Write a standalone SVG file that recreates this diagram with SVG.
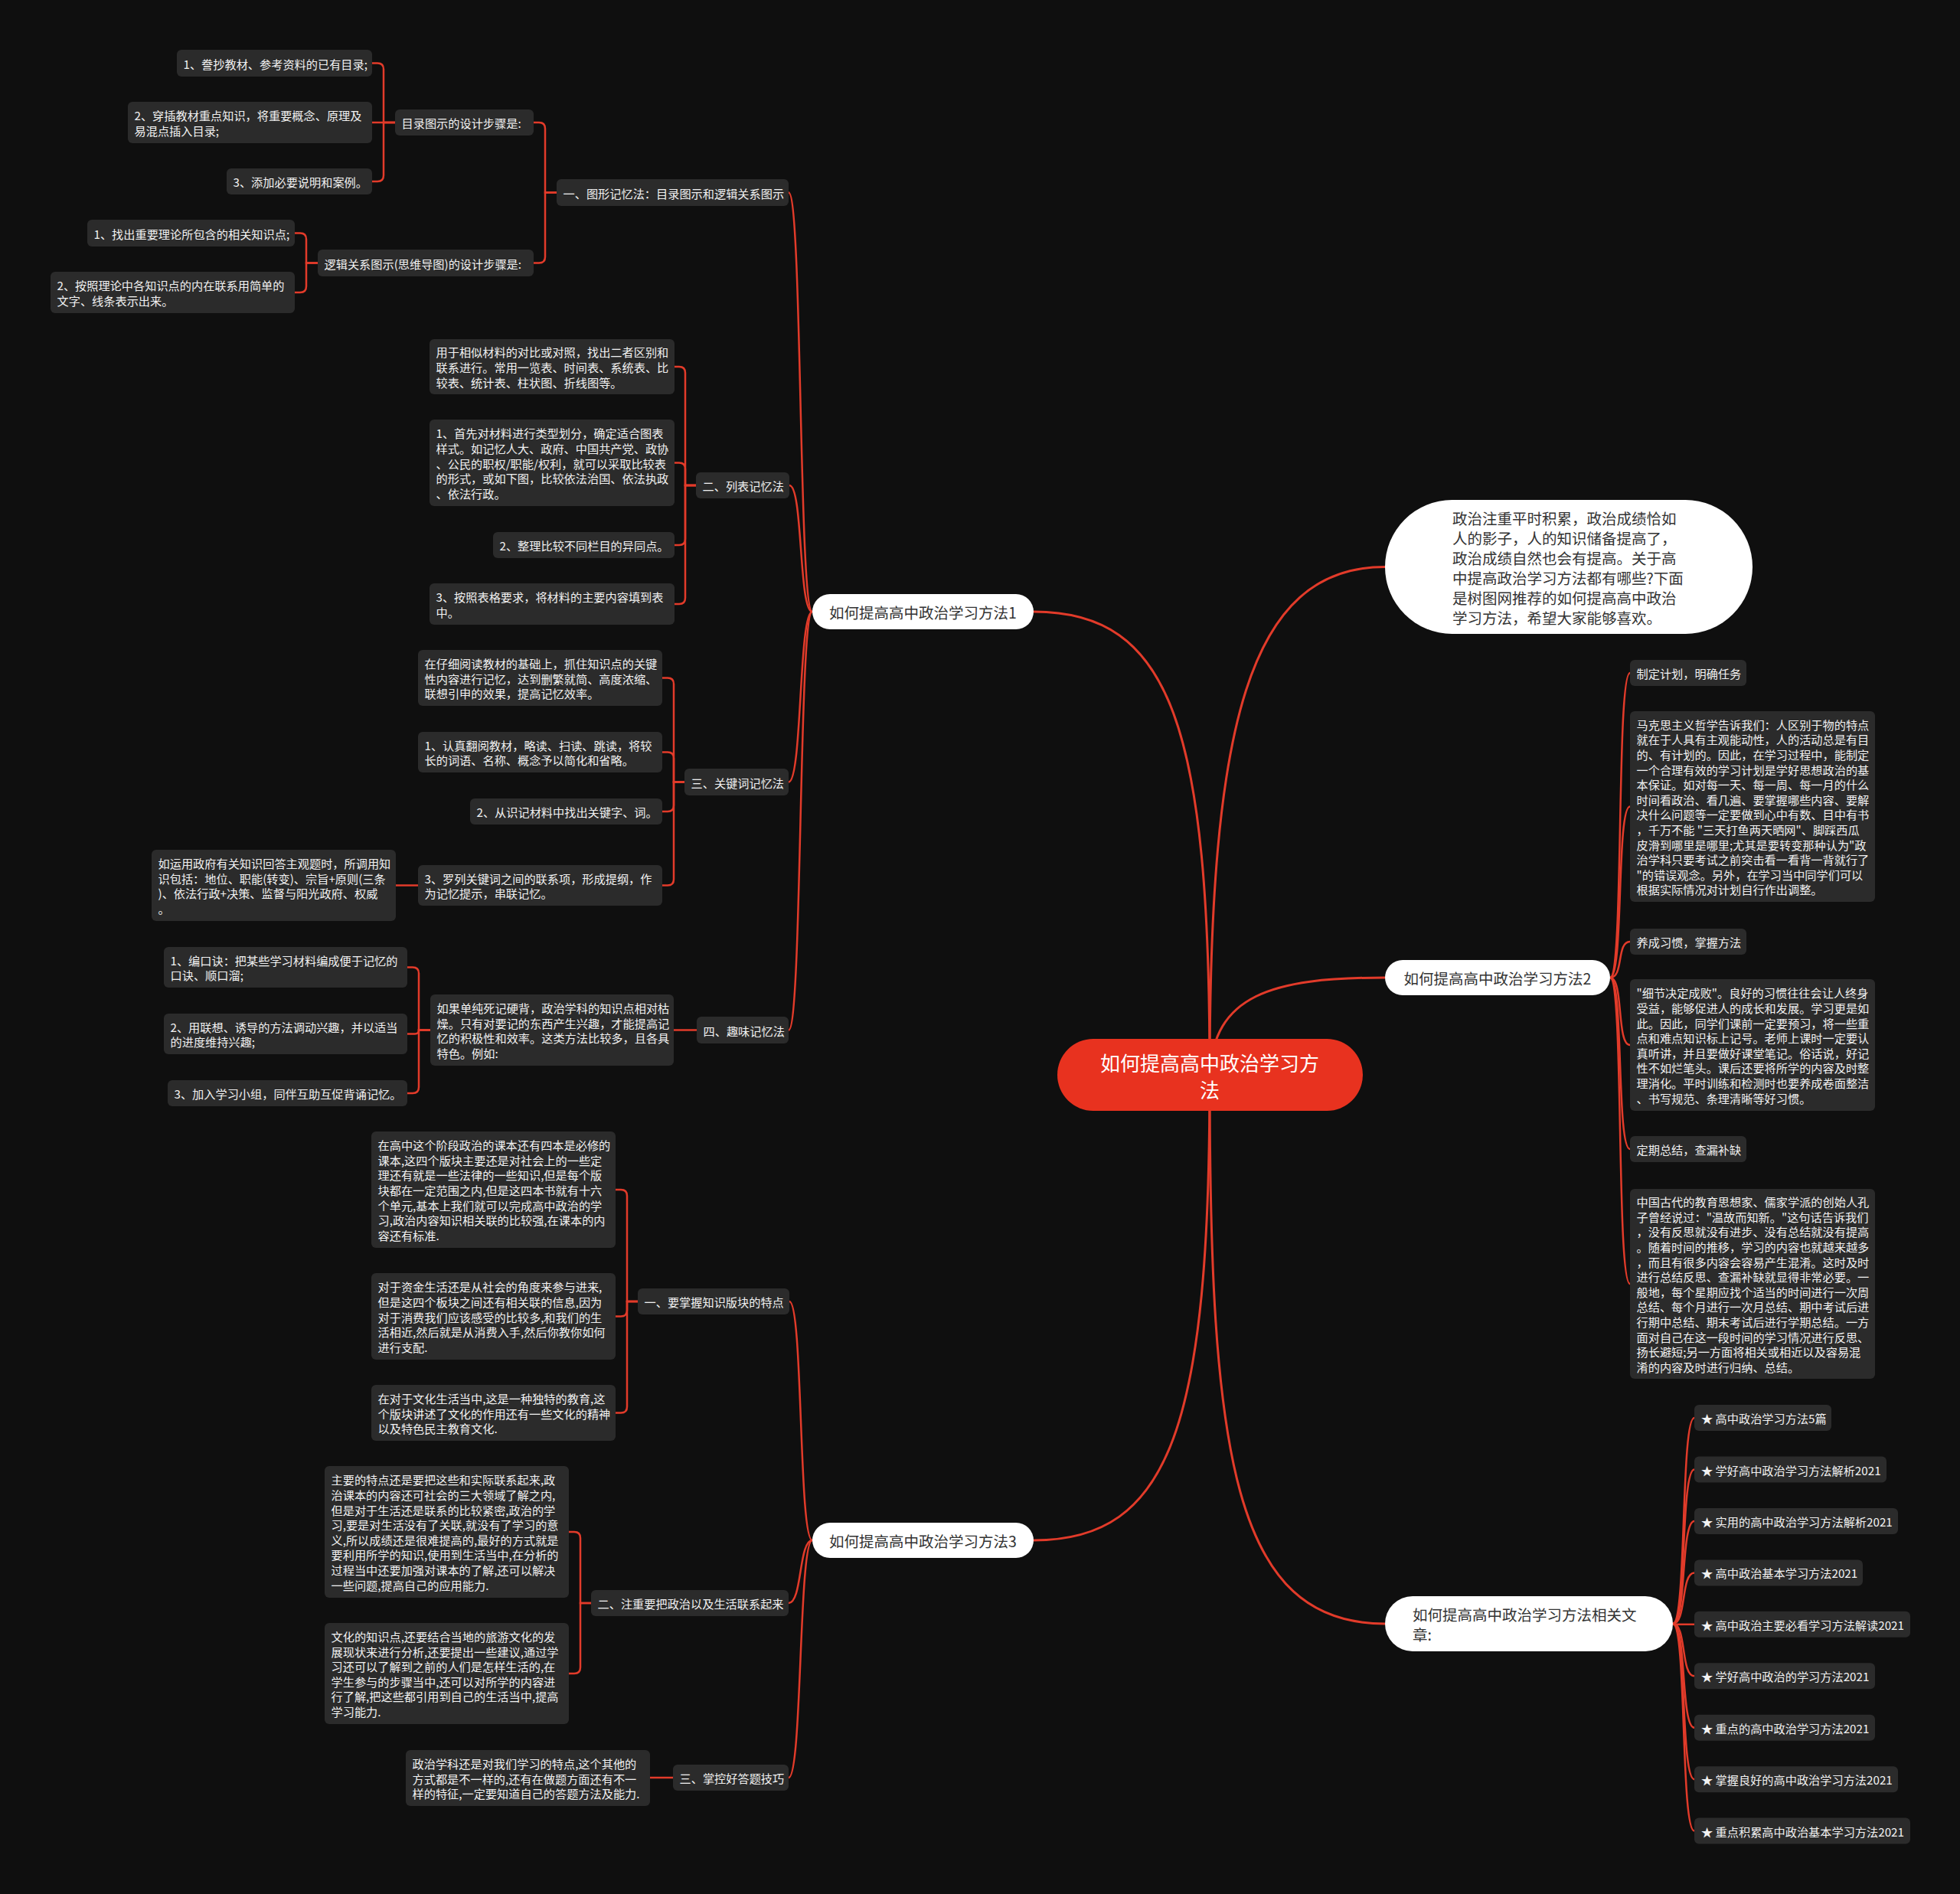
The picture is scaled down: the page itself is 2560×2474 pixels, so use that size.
<svg xmlns="http://www.w3.org/2000/svg" width="2560" height="2474" viewBox="0 0 2560 2474">
<style>
.bg{fill:#0f0f0f}
.box{fill:#2b2b2b}
.t{font-family:"Noto Sans CJK SC","Noto Sans",sans-serif;font-size:15.2px;fill:#f2f2f2;dominant-baseline:central}
.w{fill:#ffffff}
.wt{font-family:"Noto Sans CJK SC","Noto Sans",sans-serif;font-size:19.5px;fill:#333333;dominant-baseline:central}
.c{fill:#e8321f}
.ct{font-family:"Noto Sans CJK SC","Noto Sans",sans-serif;font-size:26px;fill:#ffffff;dominant-baseline:central;text-anchor:middle}
.ln{fill:none;stroke:#e23b2a;stroke-width:2.5}
.lm{fill:none;stroke:#e23b2a;stroke-width:3}
</style>
<rect class="bg" x="0" y="0" width="2560" height="2474"/>
<g id="connectors">
<path class="lm" d="M1580 1404 C1580 950 1530 799 1350 799"/>
<path class="lm" d="M1580 1404 C1580 1860 1530 2012 1350 2012"/>
<path class="lm" d="M1580 1404 C1580 950 1630 740.5 1809 740.5"/>
<path class="lm" d="M1580 1404 C1585 1300 1660 1277 1809 1277"/>
<path class="lm" d="M1580 1404 C1580 1900 1610 2121 1809 2121"/>
<path class="ln" d="M1061 799 C1043 799 1048 251.5 1030 251.5"/>
<path class="ln" d="M1061 799 C1043 799 1049 634 1031 634"/>
<path class="ln" d="M1061 799 C1043 799 1048 1021.5 1030 1021.5"/>
<path class="ln" d="M1061 799 C1043 799 1048 1345.5 1030 1345.5"/>
<path class="ln" d="M1061 2012 C1043 2012 1049 1700 1031 1700"/>
<path class="ln" d="M1061 2012 C1043 2012 1048 2094 1030 2094"/>
<path class="ln" d="M1061 2012 C1043 2012 1048 2322 1030 2322"/>
<path class="ln" d="M2103 1277 C2121 1277 2111 879 2129 879"/>
<path class="ln" d="M2103 1277 C2121 1277 2111 1053.5 2129 1053.5"/>
<path class="ln" d="M2103 1277 C2121 1277 2111 1230 2129 1230"/>
<path class="ln" d="M2103 1277 C2121 1277 2111 1365 2129 1365"/>
<path class="ln" d="M2103 1277 C2121 1277 2111 1501 2129 1501"/>
<path class="ln" d="M2103 1277 C2121 1277 2111 1677 2129 1677"/>
<path class="ln" d="M2185 2121 C2203 2121 2195 1852 2213 1852"/>
<path class="ln" d="M2185 2121 C2203 2121 2195 1919.5 2213 1919.5"/>
<path class="ln" d="M2185 2121 C2203 2121 2195 1986.9 2213 1986.9"/>
<path class="ln" d="M2185 2121 C2203 2121 2195 2054.4 2213 2054.4"/>
<path class="ln" d="M2185 2121.8 H2213"/>
<path class="ln" d="M2185 2121 C2203 2121 2195 2189.3 2213 2189.3"/>
<path class="ln" d="M2185 2121 C2203 2121 2195 2256.7 2213 2256.7"/>
<path class="ln" d="M2185 2121 C2203 2121 2195 2324.2 2213 2324.2"/>
<path class="ln" d="M2185 2121 C2203 2121 2195 2391.6 2213 2391.6"/>
<path class="ln" d="M727 251.5 H712 V168 Q712 160 704 160 H697"/>
<path class="ln" d="M727 251.5 H712 V335.5 Q712 343.5 704 343.5 H697"/>
<path class="ln" d="M516 160 H501 V90.5 Q501 82.5 493 82.5 H486"/>
<path class="ln" d="M516 160 H486"/>
<path class="ln" d="M516 160 H501 V229 Q501 237 493 237 H486"/>
<path class="ln" d="M415 343.5 H400 V312.5 Q400 304.5 392 304.5 H385"/>
<path class="ln" d="M415 343.5 H400 V374 Q400 382 392 382 H385"/>
<path class="ln" d="M909 634 H895 V487 Q895 479 887 479 H881"/>
<path class="ln" d="M909 634 H895 V612.5 Q895 604.5 887 604.5 H881"/>
<path class="ln" d="M909 634 H895 V704 Q895 712 887 712 H881"/>
<path class="ln" d="M909 634 H895 V781 Q895 789 887 789 H881"/>
<path class="ln" d="M894 1021.5 H880 V893.5 Q880 885.5 872 885.5 H865"/>
<path class="ln" d="M894 1021.5 H880 V990.5 Q880 982.5 872 982.5 H865"/>
<path class="ln" d="M894 1021.5 H880 V1052 Q880 1060 872 1060 H865"/>
<path class="ln" d="M894 1021.5 H880 V1148.5 Q880 1156.5 872 1156.5 H865"/>
<path class="ln" d="M546 1156.5 H517"/>
<path class="ln" d="M910 1345.5 H880"/>
<path class="ln" d="M562 1345.5 H547 V1271.5 Q547 1263.5 539 1263.5 H532"/>
<path class="ln" d="M562 1345.5 H547 Q547 1350.5 542 1350.5 H532"/>
<path class="ln" d="M562 1345.5 H547 V1420 Q547 1428 539 1428 H532"/>
<path class="ln" d="M833 1700 H819 V1562 Q819 1554 811 1554 H804"/>
<path class="ln" d="M833 1700 H819 V1711.5 Q819 1719.5 811 1719.5 H804"/>
<path class="ln" d="M833 1700 H819 V1837.5 Q819 1845.5 811 1845.5 H804"/>
<path class="ln" d="M772 2094 H758 V2009 Q758 2001 750 2001 H743"/>
<path class="ln" d="M772 2094 H758 V2178 Q758 2186 750 2186 H743"/>
<path class="ln" d="M879 2322 H849"/>
</g>
<g id="center">
<rect class="c" x="1381" y="1357" width="399" height="94" rx="47"/>
<text class="ct"><tspan x="1580" y="1387">如何提高高中政治学习方</tspan><tspan x="1580" y="1422">法</tspan></text>
</g>
<g id="n1">
<rect class="w" x="1061" y="776" width="289" height="46" rx="23"/>
<text class="wt" x="1205.5" y="799" text-anchor="middle">如何提高高中政治学习方法1</text>
</g>
<g id="n2">
<rect class="w" x="1809" y="1254" width="294" height="46" rx="23"/>
<text class="wt" x="1956" y="1277" text-anchor="middle">如何提高高中政治学习方法2</text>
</g>
<g id="n3">
<rect class="w" x="1061" y="1989" width="289" height="46" rx="23"/>
<text class="wt" x="1205.5" y="2012" text-anchor="middle">如何提高高中政治学习方法3</text>
</g>
<g id="intro">
<rect class="w" x="1809" y="653" width="480" height="175" rx="87.5"/>
<text class="wt"><tspan x="1897" y="675.5">政治注重平时积累，政治成绩恰如</tspan><tspan x="1897" y="701.5">人的影子，人的知识储备提高了，</tspan><tspan x="1897" y="727.5">政治成绩自然也会有提高。关于高</tspan><tspan x="1897" y="753.5">中提高政治学习方法都有哪些?下面</tspan><tspan x="1897" y="779.5">是树图网推荐的如何提高高中政治</tspan><tspan x="1897" y="805.5">学习方法，希望大家能够喜欢。</tspan></text>
</g>
<g id="related">
<rect class="w" x="1809" y="2085" width="376" height="72" rx="36"/>
<text class="wt"><tspan x="1845" y="2108">如何提高高中政治学习方法相关文</tspan><tspan x="1845" y="2134">章:</tspan></text>
</g>
<g id="a">
<rect class="box" x="727" y="234" width="303" height="35" rx="6"/>
<text class="t" x="735.5" y="251.5">一、图形记忆法：目录图示和逻辑关系图示</text>
</g>
<g id="b">
<rect class="box" x="516" y="143" width="181" height="34" rx="6"/>
<text class="t" x="524.5" y="160">目录图示的设计步骤是:</text>
</g>
<g id="b1">
<rect class="box" x="231" y="65" width="255" height="35" rx="6"/>
<text class="t" x="239.5" y="82.5">1、誊抄教材、参考资料的已有目录;</text>
</g>
<g id="b2">
<rect class="box" x="167" y="133" width="319" height="54" rx="6"/>
<text class="t"><tspan x="175.5" y="150.2">2、穿插教材重点知识，将重要概念、原理及</tspan><tspan x="175.5" y="169.8">易混点插入目录;</tspan></text>
</g>
<g id="b3">
<rect class="box" x="296" y="220" width="190" height="34" rx="6"/>
<text class="t" x="304.5" y="237">3、添加必要说明和案例。</text>
</g>
<g id="c">
<rect class="box" x="415" y="326" width="282" height="35" rx="6"/>
<text class="t" x="423.5" y="343.5">逻辑关系图示(思维导图)的设计步骤是:</text>
</g>
<g id="c1">
<rect class="box" x="114" y="287" width="271" height="35" rx="6"/>
<text class="t" x="122.5" y="304.5">1、找出重要理论所包含的相关知识点;</text>
</g>
<g id="c2">
<rect class="box" x="66" y="355" width="319" height="54" rx="6"/>
<text class="t"><tspan x="74.5" y="372.2">2、按照理论中各知识点的内在联系用简单的</tspan><tspan x="74.5" y="391.8">文字、线条表示出来。</tspan></text>
</g>
<g id="d">
<rect class="box" x="909" y="617" width="122" height="34" rx="6"/>
<text class="t" x="917.5" y="634">二、列表记忆法</text>
</g>
<g id="d1">
<rect class="box" x="561" y="443" width="320" height="72" rx="6"/>
<text class="t"><tspan x="569.5" y="459.4">用于相似材料的对比或对照，找出二者区别和</tspan><tspan x="569.5" y="479">联系进行。常用一览表、时间表、系统表、比</tspan><tspan x="569.5" y="498.6">较表、统计表、柱状图、折线图等。</tspan></text>
</g>
<g id="d2">
<rect class="box" x="561" y="548" width="320" height="113" rx="6"/>
<text class="t"><tspan x="569.5" y="565.3">1、首先对材料进行类型划分，确定适合图表</tspan><tspan x="569.5" y="584.9">样式。如记忆人大、政府、中国共产党、政协</tspan><tspan x="569.5" y="604.5">、公民的职权/职能/权利，就可以采取比较表</tspan><tspan x="569.5" y="624.1">的形式，或如下图，比较依法治国、依法执政</tspan><tspan x="569.5" y="643.7">、依法行政。</tspan></text>
</g>
<g id="d3">
<rect class="box" x="644" y="695" width="237" height="34" rx="6"/>
<text class="t" x="652.5" y="712">2、整理比较不同栏目的异同点。</text>
</g>
<g id="d4">
<rect class="box" x="561" y="762" width="320" height="54" rx="6"/>
<text class="t"><tspan x="569.5" y="779.2">3、按照表格要求，将材料的主要内容填到表</tspan><tspan x="569.5" y="798.8">中。</tspan></text>
</g>
<g id="e">
<rect class="box" x="894" y="1004" width="136" height="35" rx="6"/>
<text class="t" x="902.5" y="1021.5">三、关键词记忆法</text>
</g>
<g id="e1">
<rect class="box" x="546" y="849" width="319" height="73" rx="6"/>
<text class="t"><tspan x="554.5" y="865.9">在仔细阅读教材的基础上，抓住知识点的关键</tspan><tspan x="554.5" y="885.5">性内容进行记忆，达到删繁就简、高度浓缩、</tspan><tspan x="554.5" y="905.1">联想引申的效果，提高记忆效率。</tspan></text>
</g>
<g id="e2">
<rect class="box" x="546" y="956" width="319" height="53" rx="6"/>
<text class="t"><tspan x="554.5" y="972.7">1、认真翻阅教材，略读、扫读、跳读，将较</tspan><tspan x="554.5" y="992.3">长的词语、名称、概念予以简化和省略。</tspan></text>
</g>
<g id="e3">
<rect class="box" x="614" y="1043" width="251" height="34" rx="6"/>
<text class="t" x="622.5" y="1060">2、从识记材料中找出关键字、词。</text>
</g>
<g id="e4">
<rect class="box" x="546" y="1130" width="319" height="53" rx="6"/>
<text class="t"><tspan x="554.5" y="1146.7">3、罗列关键词之间的联系项，形成提纲，作</tspan><tspan x="554.5" y="1166.3">为记忆提示，串联记忆。</tspan></text>
</g>
<g id="e4a">
<rect class="box" x="198" y="1110" width="319" height="93" rx="6"/>
<text class="t"><tspan x="206.5" y="1127.1">如运用政府有关知识回答主观题时，所调用知</tspan><tspan x="206.5" y="1146.7">识包括：地位、职能(转变)、宗旨+原则(三条</tspan><tspan x="206.5" y="1166.3">)、依法行政+决策、监督与阳光政府、权威</tspan><tspan x="206.5" y="1185.9">。</tspan></text>
</g>
<g id="f">
<rect class="box" x="910" y="1328" width="120" height="35" rx="6"/>
<text class="t" x="918.5" y="1345.5">四、趣味记忆法</text>
</g>
<g id="f1">
<rect class="box" x="562" y="1299" width="318" height="93" rx="6"/>
<text class="t"><tspan x="570.5" y="1316.1">如果单纯死记硬背，政治学科的知识点相对枯</tspan><tspan x="570.5" y="1335.7">燥。只有对要记的东西产生兴趣，才能提高记</tspan><tspan x="570.5" y="1355.3">忆的积极性和效率。这类方法比较多，且各具</tspan><tspan x="570.5" y="1374.9">特色。例如:</tspan></text>
</g>
<g id="f1a">
<rect class="box" x="214" y="1237" width="318" height="53" rx="6"/>
<text class="t"><tspan x="222.5" y="1253.7">1、编口诀：把某些学习材料编成便于记忆的</tspan><tspan x="222.5" y="1273.3">口诀、顺口溜;</tspan></text>
</g>
<g id="f1b">
<rect class="box" x="214" y="1324" width="318" height="53" rx="6"/>
<text class="t"><tspan x="222.5" y="1340.7">2、用联想、诱导的方法调动兴趣，并以适当</tspan><tspan x="222.5" y="1360.3">的进度维持兴趣;</tspan></text>
</g>
<g id="f1c">
<rect class="box" x="219" y="1411" width="313" height="34" rx="6"/>
<text class="t" x="227.5" y="1428">3、加入学习小组，同伴互助互促背诵记忆。</text>
</g>
<g id="g">
<rect class="box" x="833" y="1683" width="198" height="34" rx="6"/>
<text class="t" x="841.5" y="1700">一、要掌握知识版块的特点</text>
</g>
<g id="g1">
<rect class="box" x="485" y="1478" width="319" height="152" rx="6"/>
<text class="t"><tspan x="493.5" y="1495.2">在高中这个阶段政治的课本还有四本是必修的</tspan><tspan x="493.5" y="1514.8">课本,这四个版块主要还是对社会上的一些定</tspan><tspan x="493.5" y="1534.4">理还有就是一些法律的一些知识,但是每个版</tspan><tspan x="493.5" y="1554">块都在一定范围之内,但是这四本书就有十六</tspan><tspan x="493.5" y="1573.6">个单元,基本上我们就可以完成高中政治的学</tspan><tspan x="493.5" y="1593.2">习,政治内容知识相关联的比较强,在课本的内</tspan><tspan x="493.5" y="1612.8">容还有标准.</tspan></text>
</g>
<g id="g2">
<rect class="box" x="485" y="1663" width="319" height="113" rx="6"/>
<text class="t"><tspan x="493.5" y="1680.3">对于资金生活还是从社会的角度来参与进来,</tspan><tspan x="493.5" y="1699.9">但是这四个板块之间还有相关联的信息,因为</tspan><tspan x="493.5" y="1719.5">对于消费我们应该感受的比较多,和我们的生</tspan><tspan x="493.5" y="1739.1">活相近,然后就是从消费入手,然后你教你如何</tspan><tspan x="493.5" y="1758.7">进行支配.</tspan></text>
</g>
<g id="g3">
<rect class="box" x="485" y="1809" width="319" height="73" rx="6"/>
<text class="t"><tspan x="493.5" y="1825.9">在对于文化生活当中,这是一种独特的教育,这</tspan><tspan x="493.5" y="1845.5">个版块讲述了文化的作用还有一些文化的精神</tspan><tspan x="493.5" y="1865.1">以及特色民主教育文化.</tspan></text>
</g>
<g id="h">
<rect class="box" x="772" y="2077" width="258" height="34" rx="6"/>
<text class="t" x="780.5" y="2094">二、注重要把政治以及生活联系起来</text>
</g>
<g id="h1">
<rect class="box" x="424" y="1915" width="319" height="172" rx="6"/>
<text class="t"><tspan x="432.5" y="1932.4">主要的特点还是要把这些和实际联系起来,政</tspan><tspan x="432.5" y="1952">治课本的内容还可社会的三大领域了解之内,</tspan><tspan x="432.5" y="1971.6">但是对于生活还是联系的比较紧密,政治的学</tspan><tspan x="432.5" y="1991.2">习,要是对生活没有了关联,就没有了学习的意</tspan><tspan x="432.5" y="2010.8">义,所以成绩还是很难提高的,最好的方式就是</tspan><tspan x="432.5" y="2030.4">要利用所学的知识,使用到生活当中,在分析的</tspan><tspan x="432.5" y="2050">过程当中还要加强对课本的了解,还可以解决</tspan><tspan x="432.5" y="2069.6">一些问题,提高自己的应用能力.</tspan></text>
</g>
<g id="h2">
<rect class="box" x="424" y="2120" width="319" height="132" rx="6"/>
<text class="t"><tspan x="432.5" y="2137">文化的知识点,还要结合当地的旅游文化的发</tspan><tspan x="432.5" y="2156.6">展现状来进行分析,还要提出一些建议,通过学</tspan><tspan x="432.5" y="2176.2">习还可以了解到之前的人们是怎样生活的,在</tspan><tspan x="432.5" y="2195.8">学生参与的步骤当中,还可以对所学的内容进</tspan><tspan x="432.5" y="2215.4">行了解,把这些都引用到自己的生活当中,提高</tspan><tspan x="432.5" y="2235">学习能力.</tspan></text>
</g>
<g id="i">
<rect class="box" x="879" y="2305" width="151" height="34" rx="6"/>
<text class="t" x="887.5" y="2322">三、掌控好答题技巧</text>
</g>
<g id="i1">
<rect class="box" x="530" y="2286" width="319" height="73" rx="6"/>
<text class="t"><tspan x="538.5" y="2302.9">政治学科还是对我们学习的特点,这个其他的</tspan><tspan x="538.5" y="2322.5">方式都是不一样的,还有在做题方面还有不一</tspan><tspan x="538.5" y="2342.1">样的特征,一定要知道自己的答题方法及能力.</tspan></text>
</g>
<g id="p1">
<rect class="box" x="2129" y="862" width="152" height="34" rx="6"/>
<text class="t" x="2137.5" y="879">制定计划，明确任务</text>
</g>
<g id="p2">
<rect class="box" x="2129" y="929" width="320" height="249" rx="6"/>
<text class="t"><tspan x="2137.5" y="945.7">马克思主义哲学告诉我们：人区别于物的特点</tspan><tspan x="2137.5" y="965.3">就在于人具有主观能动性，人的活动总是有目</tspan><tspan x="2137.5" y="984.9">的、有计划的。因此，在学习过程中，能制定</tspan><tspan x="2137.5" y="1004.5">一个合理有效的学习计划是学好思想政治的基</tspan><tspan x="2137.5" y="1024.1">本保证。如对每一天、每一周、每一月的什么</tspan><tspan x="2137.5" y="1043.7">时间看政治、看几遍、要掌握哪些内容、要解</tspan><tspan x="2137.5" y="1063.3">决什么问题等一定要做到心中有数、目中有书</tspan><tspan x="2137.5" y="1082.9">，千万不能 "三天打鱼两天晒网"、脚踩西瓜</tspan><tspan x="2137.5" y="1102.5">皮滑到哪里是哪里;尤其是要转变那种认为"政</tspan><tspan x="2137.5" y="1122.1">治学科只要考试之前突击看一看背一背就行了</tspan><tspan x="2137.5" y="1141.7">"的错误观念。另外，在学习当中同学们可以</tspan><tspan x="2137.5" y="1161.3">根据实际情况对计划自行作出调整。</tspan></text>
</g>
<g id="p3">
<rect class="box" x="2129" y="1213" width="152" height="34" rx="6"/>
<text class="t" x="2137.5" y="1230">养成习惯，掌握方法</text>
</g>
<g id="p4">
<rect class="box" x="2129" y="1279" width="320" height="172" rx="6"/>
<text class="t"><tspan x="2137.5" y="1296.4">"细节决定成败"。良好的习惯往往会让人终身</tspan><tspan x="2137.5" y="1316">受益，能够促进人的成长和发展。学习更是如</tspan><tspan x="2137.5" y="1335.6">此。因此，同学们课前一定要预习，将一些重</tspan><tspan x="2137.5" y="1355.2">点和难点知识标上记号。老师上课时一定要认</tspan><tspan x="2137.5" y="1374.8">真听讲，并且要做好课堂笔记。俗话说，好记</tspan><tspan x="2137.5" y="1394.4">性不如烂笔头。课后还要将所学的内容及时整</tspan><tspan x="2137.5" y="1414">理消化。平时训练和检测时也要养成卷面整洁</tspan><tspan x="2137.5" y="1433.6">、书写规范、条理清晰等好习惯。</tspan></text>
</g>
<g id="p5">
<rect class="box" x="2129" y="1484" width="152" height="34" rx="6"/>
<text class="t" x="2137.5" y="1501">定期总结，查漏补缺</text>
</g>
<g id="p6">
<rect class="box" x="2129" y="1553" width="320" height="248" rx="6"/>
<text class="t"><tspan x="2137.5" y="1569.2">中国古代的教育思想家、儒家学派的创始人孔</tspan><tspan x="2137.5" y="1588.8">子曾经说过："温故而知新。"这句话告诉我们</tspan><tspan x="2137.5" y="1608.4">，没有反思就没有进步、没有总结就没有提高</tspan><tspan x="2137.5" y="1628">。随着时间的推移，学习的内容也就越来越多</tspan><tspan x="2137.5" y="1647.6">，而且有很多内容会容易产生混淆。这时及时</tspan><tspan x="2137.5" y="1667.2">进行总结反思、查漏补缺就显得非常必要。一</tspan><tspan x="2137.5" y="1686.8">般地，每个星期应找个适当的时间进行一次周</tspan><tspan x="2137.5" y="1706.4">总结、每个月进行一次月总结、期中考试后进</tspan><tspan x="2137.5" y="1726">行期中总结、期末考试后进行学期总结。一方</tspan><tspan x="2137.5" y="1745.6">面对自己在这一段时间的学习情况进行反思、</tspan><tspan x="2137.5" y="1765.2">扬长避短;另一方面将相关或相近以及容易混</tspan><tspan x="2137.5" y="1784.8">淆的内容及时进行归纳、总结。</tspan></text>
</g>
<g id="r1"><rect class="box" x="2213" y="1835" width="179" height="34" rx="6"/><text class="t" x="2222" y="1852">★ 高中政治学习方法5篇</text></g>
<g id="r2"><rect class="box" x="2213" y="1902.5" width="251" height="34" rx="6"/><text class="t" x="2222" y="1919.5">★ 学好高中政治学习方法解析2021</text></g>
<g id="r3"><rect class="box" x="2213" y="1969.9" width="266" height="34" rx="6"/><text class="t" x="2222" y="1986.9">★ 实用的高中政治学习方法解析2021</text></g>
<g id="r4"><rect class="box" x="2213" y="2037.4" width="220" height="34" rx="6"/><text class="t" x="2222" y="2054.4">★ 高中政治基本学习方法2021</text></g>
<g id="r5"><rect class="box" x="2213" y="2104.8" width="282" height="34" rx="6"/><text class="t" x="2222" y="2121.8">★ 高中政治主要必看学习方法解读2021</text></g>
<g id="r6"><rect class="box" x="2213" y="2172.3" width="236" height="34" rx="6"/><text class="t" x="2222" y="2189.3">★ 学好高中政治的学习方法2021</text></g>
<g id="r7"><rect class="box" x="2213" y="2239.7" width="236" height="34" rx="6"/><text class="t" x="2222" y="2256.7">★ 重点的高中政治学习方法2021</text></g>
<g id="r8"><rect class="box" x="2213" y="2307.2" width="266" height="34" rx="6"/><text class="t" x="2222" y="2324.2">★ 掌握良好的高中政治学习方法2021</text></g>
<g id="r9"><rect class="box" x="2213" y="2374.6" width="282" height="34" rx="6"/><text class="t" x="2222" y="2391.6">★ 重点积累高中政治基本学习方法2021</text></g>
</svg>
